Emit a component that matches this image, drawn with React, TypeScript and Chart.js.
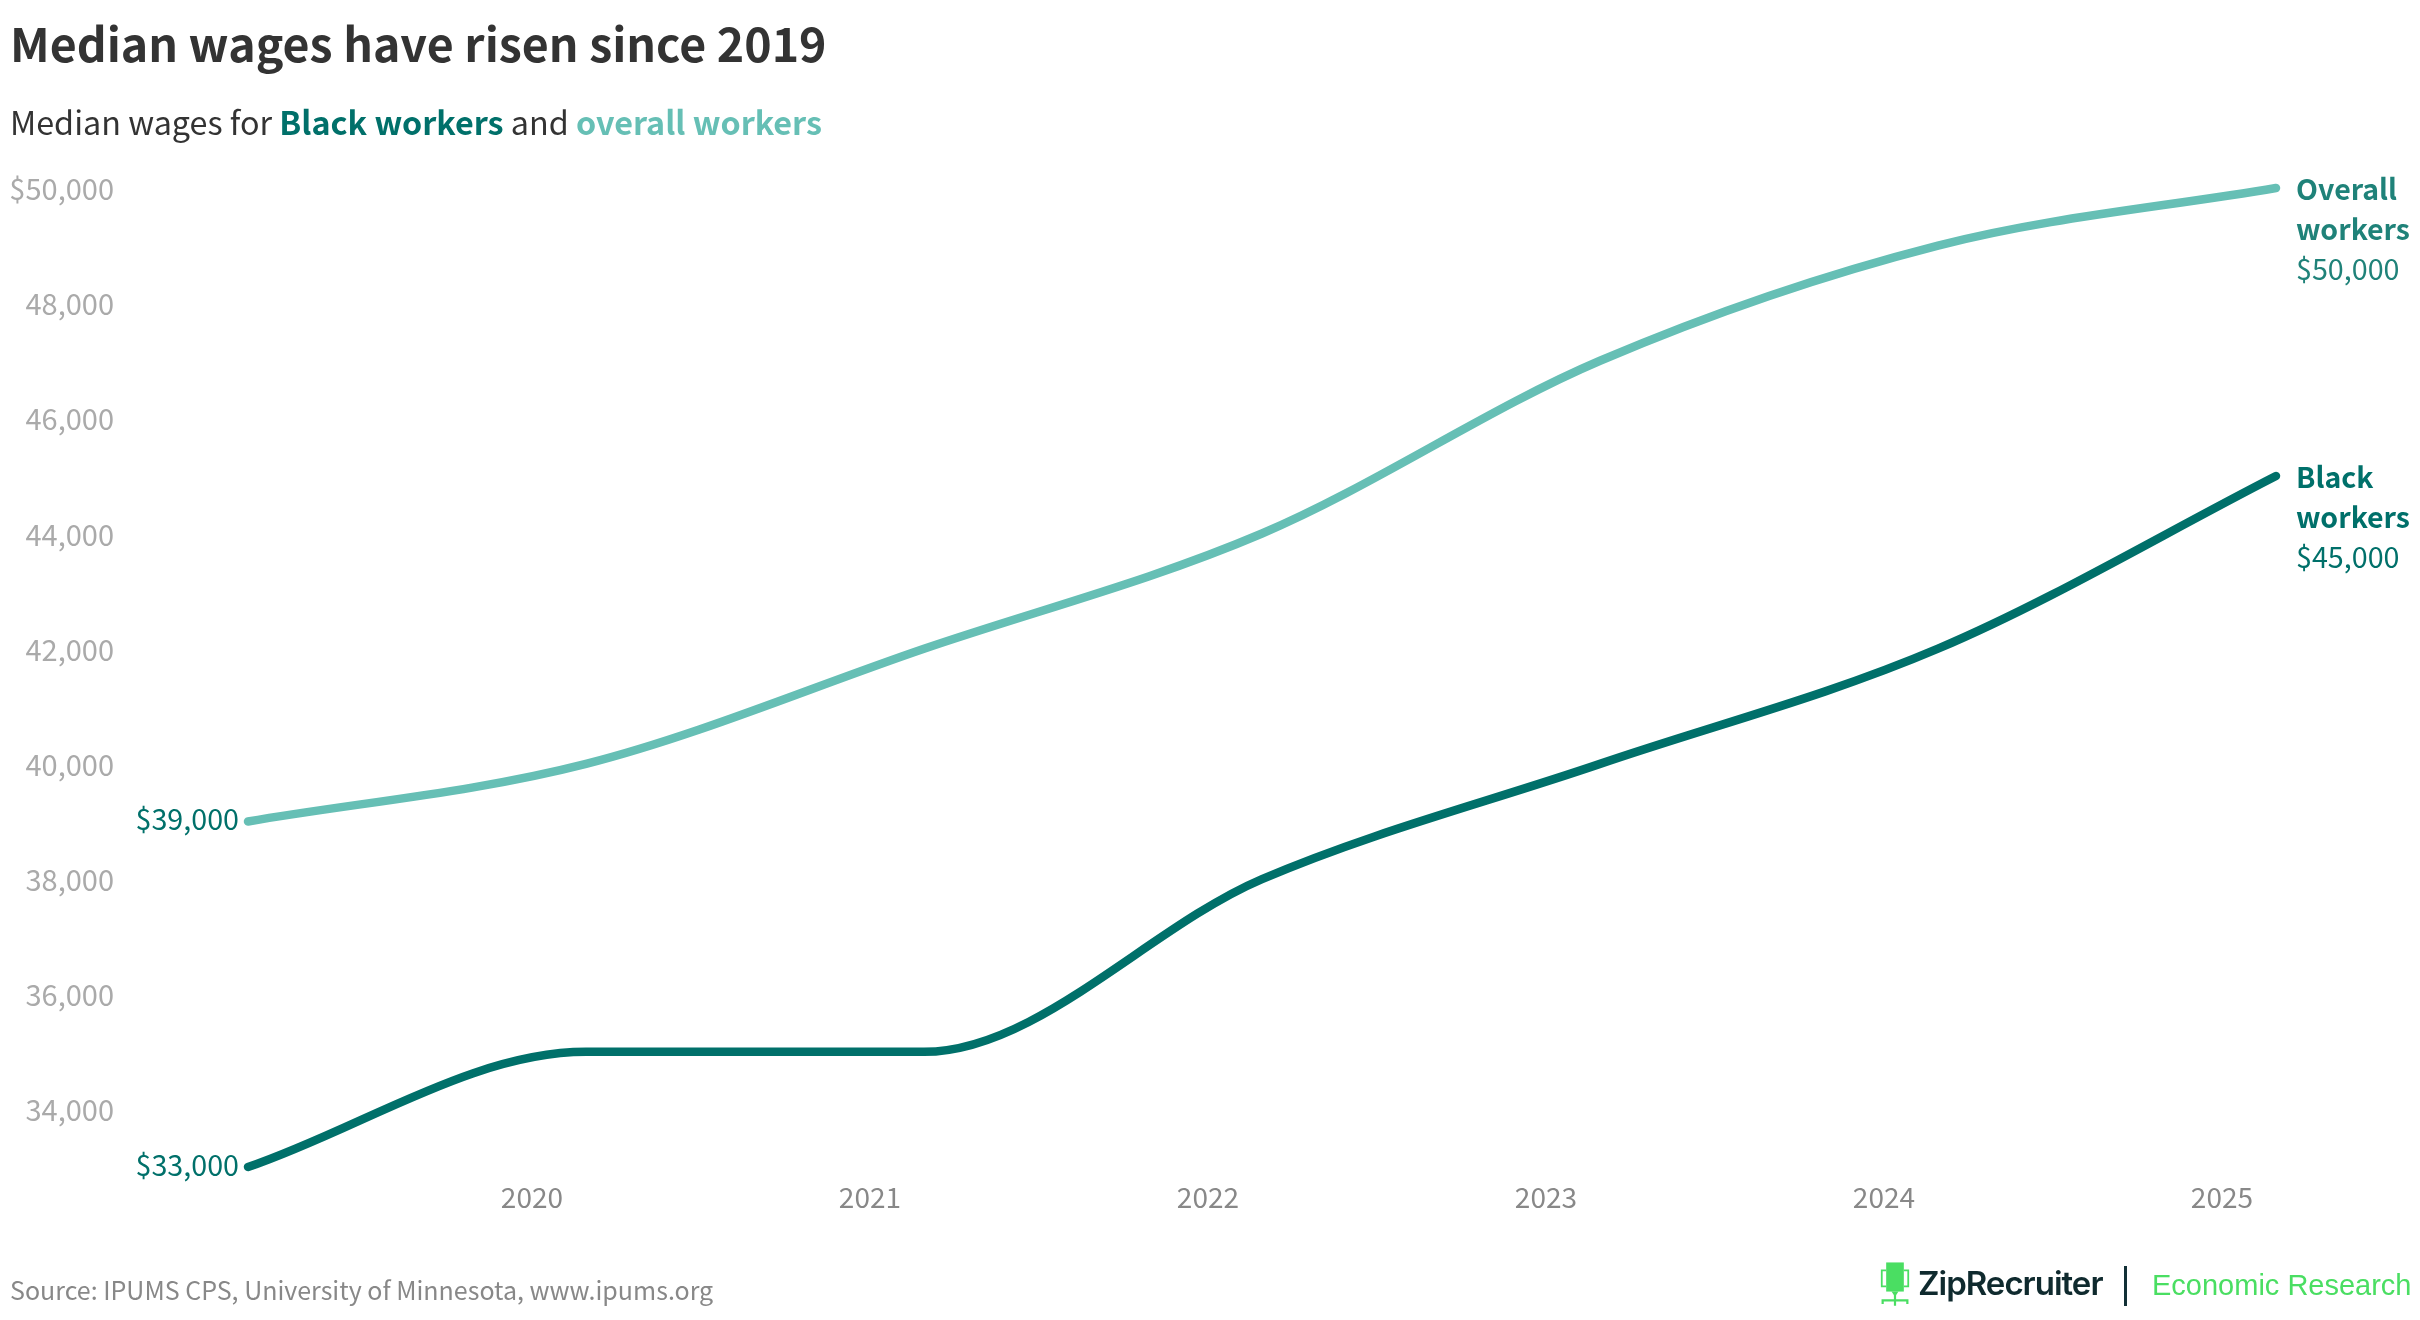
import React, { useEffect, useRef } from "react";
import { Chart, registerables } from "chart.js";

Chart.register(...registerables);

const years = [2019.16, 2020.16, 2021.16, 2022.16, 2023.16, 2024.16, 2025.16];
const blackWorkers = [33000, 35000, 35000, 38000, 40000, 42000, 45000];
const overallWorkers = [39000, 40000, 42000, 44000, 47000, 49000, 50000];
const xTicks = [2020, 2021, 2022, 2023, 2024, 2025];
const yTicks = [34000, 36000, 38000, 40000, 42000, 44000, 46000, 48000, 50000];

const DARK = "#00706a";
const LIGHT = "#66bfb5";
const OVERALL_TEXT = "#1f8279";
const FONT = '"Noto Sans CJK SC", "Noto Sans", sans-serif';
const fmt = (v: number) => v.toLocaleString("en-US");

const labelPlugin = {
  id: "lineLabels",
  afterDatasetsDraw(chart: any) {
    const { ctx, scales } = chart;
    const sx = scales.x;
    const sy = scales.y;
    const items = [
      { name: ["Overall", "workers"], vals: overallWorkers, color: OVERALL_TEXT, startColor: DARK },
      { name: ["Black", "workers"], vals: blackWorkers, color: DARK, startColor: DARK },
    ];
    ctx.save();
    ctx.textBaseline = "middle";
    for (const it of items) {
      const first = it.vals[0];
      const last = it.vals[it.vals.length - 1];
      ctx.textAlign = "right";
      ctx.fillStyle = it.startColor;
      ctx.font = `400 28.7px ${FONT}`;
      ctx.fillText("$" + fmt(first), sx.getPixelForValue(years[0]) - 9, sy.getPixelForValue(first) - 2);
      const ex = sx.getPixelForValue(years[years.length - 1]) + 20;
      const ey = sy.getPixelForValue(last) + 1;
      ctx.textAlign = "left";
      ctx.fillStyle = it.color;
      ctx.font = `700 28.5px ${FONT}`;
      ctx.fillText(it.name[0], ex, ey);
      ctx.fillText(it.name[1], ex, ey + 40);
      ctx.font = `400 28.7px ${FONT}`;
      ctx.fillText("$" + fmt(last), ex, ey + 80);
    }
    ctx.restore();
  },
};

export default function App() {
  const ref = useRef<HTMLCanvasElement | null>(null);

  useEffect(() => {
    document.body.style.margin = "0";
    document.body.style.background = "#fff";
    const chart = new Chart(ref.current as HTMLCanvasElement, {
      type: "line",
      data: {
        datasets: [
          {
            label: "Overall workers",
            data: years.map((x, i) => ({ x, y: overallWorkers[i] })),
            borderColor: LIGHT,
            borderWidth: 8.5,
            cubicInterpolationMode: "monotone",
            borderCapStyle: "round",
            borderJoinStyle: "round",
            pointRadius: 0,
            clip: false,
          },
          {
            label: "Black workers",
            data: years.map((x, i) => ({ x, y: blackWorkers[i] })),
            borderColor: DARK,
            borderWidth: 8.5,
            cubicInterpolationMode: "monotone",
            borderCapStyle: "round",
            borderJoinStyle: "round",
            pointRadius: 0,
            clip: false,
          },
        ],
      },
      plugins: [labelPlugin],
      options: {
        animation: false,
        responsive: false,
        devicePixelRatio: 1,
        layout: { padding: { left: 0, right: 144, top: 188, bottom: 0 } },
        plugins: { legend: { display: false }, tooltip: { enabled: false } },
        scales: {
          x: {
            type: "linear",
            min: years[0],
            max: years[years.length - 1],
            grid: { display: false, drawTicks: false },
            border: { display: false },
            afterBuildTicks: (s: any) => {
              s.ticks = xTicks.map((value) => ({ value }));
            },
            afterFit: (s: any) => {
              s.height = 1320 - 1167;
            },
            ticks: {
              autoSkip: false,
              maxRotation: 0,
              color: "#888888",
              padding: 14,
              font: { family: FONT, size: 28, weight: 400 },
              callback: (v: any) => String(v),
            },
          },
          y: {
            type: "linear",
            min: 33000,
            max: 50000,
            grid: { display: false, drawTicks: false },
            border: { display: false },
            afterBuildTicks: (s: any) => {
              s.ticks = yTicks.map((value) => ({ value }));
            },
            afterFit: (s: any) => {
              s.width = 248;
            },
            ticks: {
              autoSkip: false,
              color: "#aaaaaa",
              padding: 134,
              labelOffset: 1,
              font: { family: FONT, size: 29, weight: 400 },
              callback: (v: any) => (v === 50000 ? "$" : "") + fmt(Number(v)),
            },
          },
        },
      } as any,
    });
    return () => chart.destroy();
  }, []);

  const abs = (s: React.CSSProperties): React.CSSProperties => ({
    position: "absolute",
    whiteSpace: "nowrap",
    fontFamily: FONT,
    ...s,
  });

  return (
    <div style={{ position: "relative", width: 2420, height: 1320, overflow: "hidden", background: "#fff" }}>
      <canvas ref={ref} width={2420} height={1320} style={{ position: "absolute", left: 0, top: 0, width: 2420, height: 1320 }} />
      <div style={abs({ left: 10, top: 8, fontSize: 46.5, lineHeight: "68px", fontWeight: 700, color: "#333333" })}>
        Median wages have risen since 2019
      </div>
      <div style={abs({ left: 10, top: 96, fontSize: 32.3, lineHeight: "50px", color: "#333333" })}>
        Median wages for <b style={{ color: DARK }}>Black workers</b> and{" "}
        <b style={{ color: LIGHT }}>overall workers</b>
      </div>
      <div style={abs({ left: 10, top: 1269, fontSize: 25, lineHeight: "40px", color: "#888888" })}>
        Source: IPUMS CPS, University of Minnesota, www.ipums.org
      </div>
      <svg style={{ position: "absolute", left: 1880, top: 1260 }} width="30" height="49" viewBox="0 0 34 52">
        <rect x="7" y="1" width="20" height="33" fill="#4ade62" />
        <path d="M7 10H2V28H7M27 10H32V28H27" fill="none" stroke="#4ade62" strokeWidth="2" />
        <path d="M13 34L17 40L21 34Z" fill="#4ade62" />
        <path d="M17 38V50M3 48V44H31V48" fill="none" stroke="#4ade62" strokeWidth="2.5" />
      </svg>
      <div style={abs({ left: 1918, top: 1263, fontSize: 33, lineHeight: "40px", fontWeight: 600, letterSpacing: "-1px", color: "#0f2a2e", fontFamily: '"Inter", sans-serif' })}>
        ZipRecruiter
      </div>
      <div style={{ position: "absolute", left: 2124, top: 1266, width: 3, height: 40, background: "#123036" }} />
      <div style={abs({ left: 2152, top: 1265, fontSize: 29, lineHeight: "40px", color: "#4ade62", fontFamily: '"Liberation Sans", sans-serif' })}>
        Economic Research
      </div>
    </div>
  );
}
